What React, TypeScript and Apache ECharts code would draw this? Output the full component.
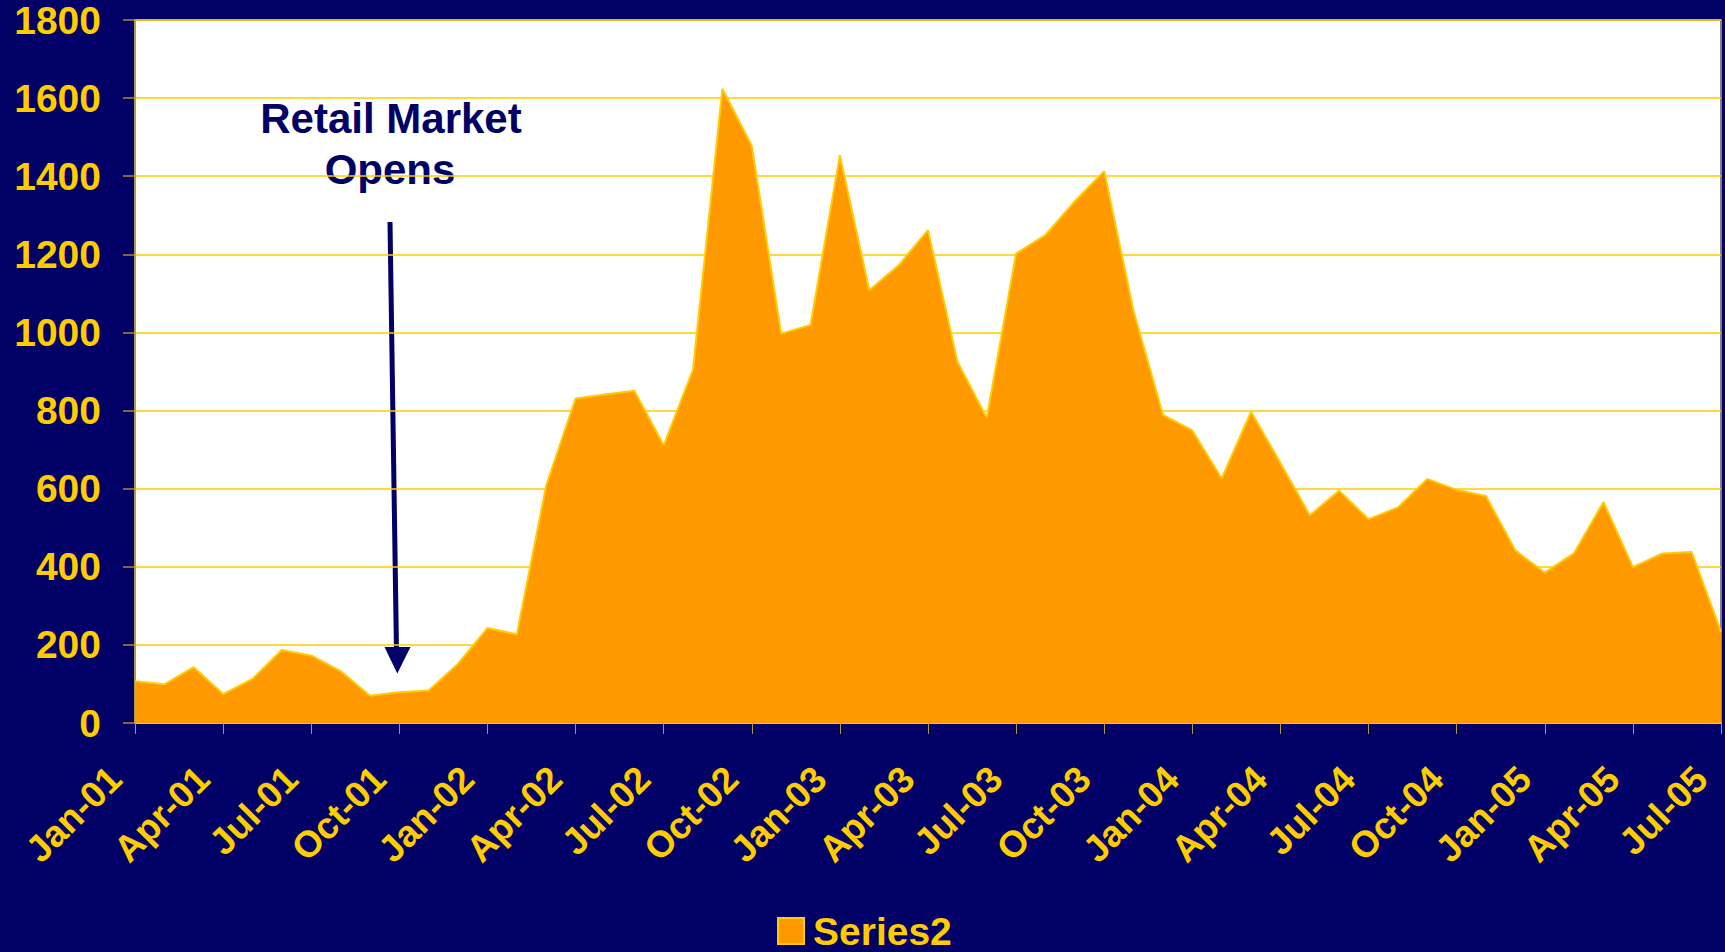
import React, { useEffect, useRef } from "react";
import * as echarts from "echarts";

const categories = [
  "Jan-01","Feb-01","Mar-01","Apr-01","May-01","Jun-01","Jul-01","Aug-01","Sep-01","Oct-01","Nov-01","Dec-01",
  "Jan-02","Feb-02","Mar-02","Apr-02","May-02","Jun-02","Jul-02","Aug-02","Sep-02","Oct-02","Nov-02","Dec-02",
  "Jan-03","Feb-03","Mar-03","Apr-03","May-03","Jun-03","Jul-03","Aug-03","Sep-03","Oct-03","Nov-03","Dec-03",
  "Jan-04","Feb-04","Mar-04","Apr-04","May-04","Jun-04","Jul-04","Aug-04","Sep-04","Oct-04","Nov-04","Dec-04",
  "Jan-05","Feb-05","Mar-05","Apr-05","May-05","Jun-05","Jul-05",
];

const series2 = [
  107, 99, 143, 74, 113, 187, 173, 133, 70, 79, 83, 152,
  243, 227, 608, 831, 841, 851, 711, 905, 1624, 1478, 997, 1019,
  1454, 1108, 1172, 1262, 926, 781, 1202, 1250, 1336, 1413, 1055, 789,
  749, 626, 797, 666, 532, 595, 522, 552, 625, 597, 581, 442,
  385, 435, 566, 399, 434, 438, 234,
];

const yTicks = { min: 0, max: 1800, interval: 200 };
const annotationLines = ["Retail Market", "Opens"];

const NAVY = "#000066";
const GOLD = "#FFCC00";
const ORANGE = "#FF9900";
const FONT = "'Liberation Sans', Arial, sans-serif";

export default function App() {
  const ref = useRef<HTMLDivElement>(null);
  useEffect(() => {
    if (!ref.current) return;
    const chart = echarts.init(ref.current, null, { renderer: "svg" });
    chart.setOption({
      animation: false,
      backgroundColor: NAVY,
      grid: {
        left: 135,
        right: 4,
        top: 20,
        bottom: 229,
        show: true,
        backgroundColor: "#FFFFFF",
        borderColor: "#808080",
        borderWidth: 2,
      },
      legend: {
        data: [
          {
            name: "Series2",
            icon: "rect",
            itemStyle: { color: ORANGE, borderColor: GOLD, borderWidth: 2 },
          },
        ],
        left: 777,
        top: 911,
        padding: 0,
        itemWidth: 26,
        itemHeight: 26,
        itemGap: 10,
        textStyle: {
          color: GOLD,
          fontSize: 39,
          fontWeight: "bold",
          fontFamily: FONT,
          lineHeight: 40,
          padding: [0, 0, 0, 4],
        },
      },
      xAxis: {
        type: "category",
        data: categories,
        boundaryGap: false,
        axisLine: { show: true, lineStyle: { color: GOLD, width: 2 } },
        axisTick: {
          show: true,
          interval: 2,
          length: 11,
          lineStyle: { color: "#B8962E", width: 1 },
        },
        axisLabel: {
          interval: 2,
          rotate: 45,
          color: GOLD,
          fontSize: 37,
          fontWeight: "bold",
          fontFamily: FONT,
          margin: 30,
          padding: [0, 28, 0, 0],
        },
        splitLine: { show: false },
      },
      yAxis: {
        type: "value",
        min: yTicks.min,
        max: yTicks.max,
        interval: yTicks.interval,
        axisLine: { show: true, lineStyle: { color: "#C9A227", width: 1.5 } },
        axisTick: {
          show: true,
          length: 12,
          lineStyle: { color: "#A8893A", width: 1.5 },
        },
        axisLabel: {
          color: GOLD,
          fontSize: 39,
          fontWeight: "bold",
          fontFamily: FONT,
          margin: 34,
          formatter: (v: number) => String(v),
        },
        splitLine: { show: true, lineStyle: { color: GOLD, width: 1.5 } },
      },
      series: [
        {
          name: "Series2",
          type: "line",
          data: series2,
          symbol: "none",
          lineStyle: { color: GOLD, width: 2 },
          itemStyle: { color: ORANGE },
          areaStyle: { color: ORANGE, opacity: 1 },
          z: 2,
        },
      ],
      graphic: [
        {
          type: "text",
          x: 391,
          y: 118,
          style: {
            text: annotationLines[0],
            fill: NAVY,
            font: `bold 42px ${FONT}`,
            textAlign: "center",
            textVerticalAlign: "middle",
          },
        },
        {
          type: "text",
          x: 390,
          y: 169,
          style: {
            text: annotationLines[1],
            fill: NAVY,
            font: `bold 42px ${FONT}`,
            textAlign: "center",
            textVerticalAlign: "middle",
          },
        },
        {
          type: "line",
          shape: { x1: 390, y1: 222, x2: 396.5, y2: 652 },
          style: { stroke: NAVY, lineWidth: 5 },
        },
        {
          type: "polygon",
          shape: { points: [[384.5, 647], [410.5, 647], [397.3, 673.5]] },
          style: { fill: NAVY },
        },
      ],
    });
    return () => chart.dispose();
  }, []);
  return (
    <div
      ref={ref}
      style={{ position: "fixed", left: 0, top: 0, width: 1725, height: 952 }}
    />
  );
}
